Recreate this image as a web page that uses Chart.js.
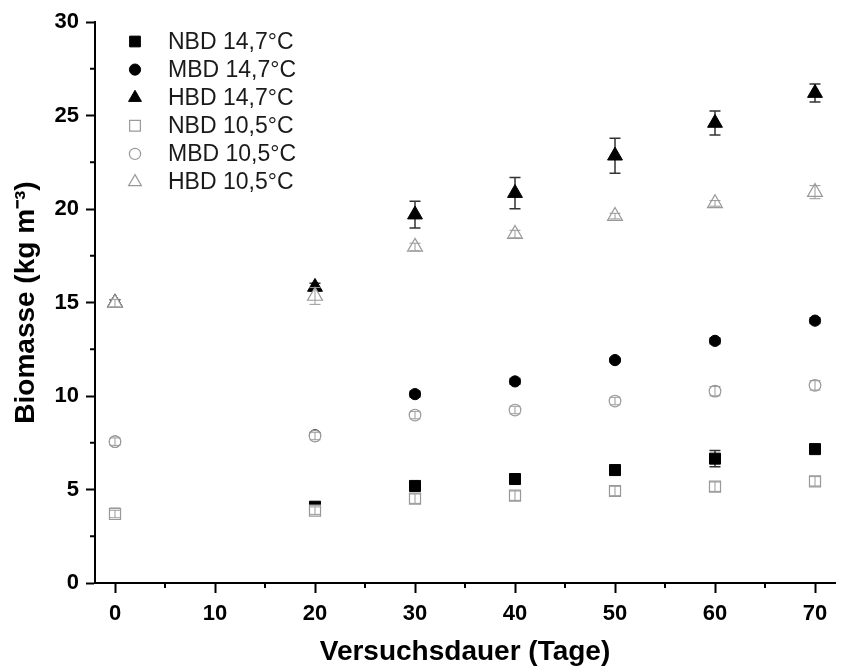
<!DOCTYPE html>
<html>
<head>
<meta charset="utf-8">
<script src="https://cdn.jsdelivr.net/npm/chart.js"></script>
<style>
  html, body { margin: 0; padding: 0; background: #fff; }
  #wrap { width: 862px; height: 669px; }
</style>
</head>
<body>
<div id="wrap"><canvas id="main-chart" width="862" height="669"></canvas></div>
<script>
// Days of the trial
const days = [0, 20, 30, 40, 50, 60, 70];
const xTicks = [0, 10, 20, 30, 40, 50, 60, 70];
const yTicks = [0, 5, 10, 15, 20, 25, 30];

// Biomass, 14,7 °C
const nbd147 = [3.7, 4.08, 5.19, 5.56, 6.04, 6.65, 7.16];
const mbd147 = [7.56, 7.9, 10.1, 10.78, 11.92, 12.95, 14.03];
const hbd147 = [15.0, 15.83, 19.7, 20.85, 22.85, 24.6, 26.2];
const nbd147Err = [0.15, 0.15, 0.2, 0.15, 0.15, 0.43, 0.2];
const mbd147Err = [0.1, 0.1, 0.15, 0.15, 0.1, 0.15, 0.15];
const hbd147Err = [0.15, 0.2, 0.72, 0.83, 0.94, 0.64, 0.48];

// Biomass, 10,5 °C
const nbd105 = [3.69, 3.87, 4.51, 4.67, 4.92, 5.15, 5.44];
const mbd105 = [7.56, 7.86, 8.98, 9.25, 9.73, 10.26, 10.57];
const hbd105 = [14.97, 15.35, 17.97, 18.66, 19.62, 20.3, 20.9];
const nbd105Err = [0.2, 0.2, 0.25, 0.25, 0.25, 0.25, 0.25];
const mbd105Err = [0.2, 0.2, 0.2, 0.2, 0.2, 0.25, 0.25];
const hbd105Err = [0.2, 0.45, 0.2, 0.2, 0.15, 0.15, 0.35];

const FONT = "'Liberation Sans', Arial, Helvetica, sans-serif";
const GREY = "#999999";

function toPoints(values) {
  return values.map((v, i) => ({ x: days[i], y: v }));
}

function blackSet(label, values, errs, style, radius) {
  return {
    label: label,
    data: toPoints(values),
    errors: errs,
    errColor: "#333333",
    errWidth: 1.5,
    errBehind: true,
    pointStyle: style,
    pointRadius: radius,
    pointBackgroundColor: "#000000",
    pointBorderColor: "#000000",
    pointBorderWidth: 1,
    showLine: false,
    order: 2,
  };
}

function greySet(label, values, errs, style, radius) {
  return {
    label: label,
    data: toPoints(values),
    errors: errs,
    errColor: GREY,
    errWidth: 1,
    errBehind: false,
    pointStyle: style,
    pointRadius: radius,
    pointBackgroundColor: "#ffffff",
    pointBorderColor: GREY,
    pointBorderWidth: 1.2,
    showLine: false,
    order: 1,
  };
}

const datasets = [
  blackSet("NBD 14,7°C", nbd147, nbd147Err, "rect", 7.8),
  blackSet("MBD 14,7°C", mbd147, mbd147Err, "circle", 5.6),
  blackSet("HBD 14,7°C", hbd147, hbd147Err, "triangle", 8.6),
  greySet("NBD 10,5°C", nbd105, nbd105Err, "rect", 7.8),
  greySet("MBD 10,5°C", mbd105, mbd105Err, "circle", 5.8),
  greySet("HBD 10,5°C", hbd105, hbd105Err, "triangle", 8.6),
];

// Error bars with caps
function drawErrors(chart, behind) {
  const ctx = chart.ctx;
  const xs = chart.scales.x;
  const ys = chart.scales.y;
  const cap = 5.5;
  ctx.save();
  chart.data.datasets.forEach((ds) => {
    if (ds.errBehind !== behind) return;
    ctx.strokeStyle = ds.errColor;
    ctx.lineWidth = ds.errWidth;
    ds.data.forEach((p, i) => {
      const e = ds.errors[i];
      const px = xs.getPixelForValue(p.x);
      const top = ys.getPixelForValue(p.y + e);
      const bot = ys.getPixelForValue(p.y - e);
      ctx.beginPath();
      ctx.moveTo(px, top);
      ctx.lineTo(px, bot);
      ctx.moveTo(px - cap, top);
      ctx.lineTo(px + cap, top);
      ctx.moveTo(px - cap, bot);
      ctx.lineTo(px + cap, bot);
      ctx.stroke();
    });
  });
  ctx.restore();
}

const errorBars = {
  id: "errorBars",
  beforeDatasetsDraw(chart) { drawErrors(chart, true); },
  afterDatasetsDraw(chart) { drawErrors(chart, false); },
};

// Minor ticks between the labelled ones
const minorTicks = {
  id: "minorTicks",
  afterDraw(chart) {
    const ctx = chart.ctx;
    const xs = chart.scales.x;
    const ys = chart.scales.y;
    ctx.save();
    ctx.strokeStyle = "#000";
    ctx.lineWidth = 2;
    ctx.beginPath();
    for (let v = 5; v < 72; v += 10) {
      const px = xs.getPixelForValue(v);
      ctx.moveTo(px, ys.bottom);
      ctx.lineTo(px, ys.bottom + 5);
    }
    for (let v = 2.5; v < 30; v += 5) {
      const py = ys.getPixelForValue(v);
      ctx.moveTo(xs.left, py);
      ctx.lineTo(xs.left - 5, py);
    }
    ctx.stroke();
    ctx.restore();
  },
};

// Legend inside the plot, top left
const insideLegend = {
  id: "insideLegend",
  afterDraw(chart) {
    const ctx = chart.ctx;
    ctx.save();
    ctx.font = "23px " + FONT;
    ctx.textBaseline = "middle";
    ctx.textAlign = "left";
    chart.data.datasets.forEach((ds, i) => {
      const y = 41.5 + i * 28.1;
      const r = ds.pointStyle === "triangle" ? 7.4 : ds.pointStyle === "rect" ? 7.6 : 5.6;
      ctx.fillStyle = ds.pointBackgroundColor;
      ctx.strokeStyle = ds.pointBorderColor;
      ctx.lineWidth = ds.pointBorderWidth;
      Chart.helpers.drawPoint(ctx, { pointStyle: ds.pointStyle, radius: r, rotation: 0, borderWidth: ds.pointBorderWidth }, 135, y);
      ctx.fillStyle = "#1a1a1a";
      ctx.fillText(ds.label, 168, y + 1);
    });
    ctx.restore();
  },
};

const biomassChart = new Chart(document.getElementById("main-chart").getContext("2d"), {
  type: "scatter",
  data: { datasets: datasets },
  plugins: [errorBars, minorTicks, insideLegend],
  options: {
    responsive: false,
    animation: false,
    layout: { padding: { top: 22, right: 27, left: 0, bottom: 0 } },
    plugins: {
      legend: { display: false },
      tooltip: { enabled: false },
    },
    scales: {
      x: {
        type: "linear",
        min: -2,
        max: 72,
        afterBuildTicks: (scale) => { scale.ticks = xTicks.map((v) => ({ value: v })); },
        afterFit: (scale) => { scale.height = 86; },
        grid: { drawOnChartArea: false, drawTicks: true, tickLength: 10, tickColor: "#000", tickWidth: 2 },
        border: { display: true, color: "#000", width: 2 },
        ticks: { color: "#000", padding: 8, maxRotation: 0, font: { family: FONT, size: 22, weight: "bold" } },
        title: {
          display: true,
          text: "Versuchsdauer (Tage)",
          color: "#000",
          padding: { top: 0, bottom: 0 },
          font: { family: FONT, size: 28, weight: "bold" },
        },
      },
      y: {
        type: "linear",
        min: 0,
        max: 30,
        afterBuildTicks: (scale) => { scale.ticks = yTicks.map((v) => ({ value: v })); },
        afterFit: (scale) => { scale.width = 95; },
        grid: { drawOnChartArea: false, drawTicks: true, tickLength: 9, tickColor: "#000", tickWidth: 2 },
        border: { display: true, color: "#000", width: 2 },
        ticks: { color: "#000", padding: 7, font: { family: FONT, size: 22, weight: "bold" } },
        title: {
          display: true,
          text: "Biomasse (kg m⁻³)",
          color: "#000",
          padding: { top: 9, bottom: 0 },
          font: { family: FONT, size: 28, weight: "bold" },
        },
      },
    },
  },
});
</script>
</body>
</html>
